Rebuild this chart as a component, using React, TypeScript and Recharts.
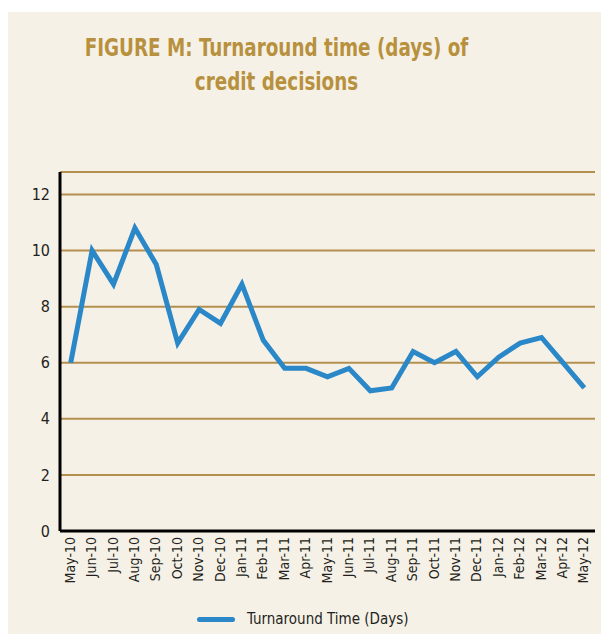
import React from 'react';
import { LineChart, Line, XAxis, YAxis, CartesianGrid } from 'recharts';

const months = [
  'May-10', 'Jun-10', 'Jul-10', 'Aug-10', 'Sep-10', 'Oct-10', 'Nov-10', 'Dec-10',
  'Jan-11', 'Feb-11', 'Mar-11', 'Apr-11', 'May-11', 'Jun-11', 'Jul-11', 'Aug-11',
  'Sep-11', 'Oct-11', 'Nov-11', 'Dec-11', 'Jan-12', 'Feb-12', 'Mar-12', 'Apr-12', 'May-12',
];

const turnaround = [
  6.0, 10.0, 8.8, 10.8, 9.5, 6.7, 7.9, 7.4,
  8.8, 6.8, 5.8, 5.8, 5.5, 5.8, 5.0, 5.1,
  6.4, 6.0, 6.4, 5.5, 6.2, 6.7, 6.9, 6.0, 5.1,
];

const yTicks = [0, 2, 4, 6, 8, 10, 12];

const BG = '#f6f1e7';
const GOLD = '#b8913f';
const GRID = '#b3904f';
const BLUE = '#2a87c8';
const TEXT = '#231f20';
const FONT = '"DejaVu Sans Condensed", "DejaVu Sans", sans-serif';

const chartData = months.map((m, i) => ({ month: m, days: turnaround[i] }));

function MonthTick(props: any) {
  const { x, y, payload } = props;
  return (
    <text
      transform={`translate(${x + 4},${y}) rotate(-90)`}
      textAnchor="end"
      fontSize={14}
      fontFamily={FONT}
      fill={TEXT}
    >
      {payload.value}
    </text>
  );
}

export default function App() {
  return (
    <div
      style={{
        position: 'relative',
        width: 601,
        height: 622,
        marginTop: 4,
        background: BG,
      }}
    >
      <div
        style={{
          position: 'absolute',
          top: 19,
          left: -32,
          width: 601,
          textAlign: 'center',
          color: GOLD,
          fontFamily: FONT,
          fontWeight: 'bold',
          fontSize: 25,
          lineHeight: '34px',
          transform: 'scaleX(0.815)',
          transformOrigin: 'center top',
        }}
      >
        FIGURE M: Turnaround time (days) of
        <br />
        credit decisions
      </div>
      <LineChart
        width={601}
        height={622}
        data={chartData}
        margin={{ top: 160, right: 14, bottom: 23, left: 0 }}
        style={{ position: 'absolute', top: 0, left: 0 }}
      >
        <CartesianGrid vertical={false} stroke={GRID} strokeWidth={2} />
        <XAxis
          dataKey="month"
          interval={0}
          padding={{ left: 10.7, right: 10.7 }}
          axisLine={{ stroke: '#000', strokeWidth: 3 }}
          tickLine={false}
          tick={<MonthTick />}
          tickSize={0}
          tickMargin={6}
          height={80}
        />
        <YAxis
          domain={[0, 12.8]}
          ticks={yTicks}
          width={52}
          axisLine={{ stroke: '#000', strokeWidth: 3 }}
          tickLine={false}
          tickSize={0}
          tickMargin={10}
          tick={{ fontSize: 16, fontFamily: FONT, fill: TEXT }}
        />
        <Line
          type="linear"
          dataKey="days"
          stroke={BLUE}
          strokeWidth={5}
          strokeLinejoin="miter"
          dot={false}
          isAnimationActive={false}
        />
      </LineChart>
      <div
        style={{
          position: 'absolute',
          top: 598,
          left: 189,
          display: 'flex',
          alignItems: 'center',
          fontFamily: FONT,
          fontSize: 15,
          color: TEXT,
        }}
      >
        <span
          style={{
            display: 'inline-block',
            width: 38,
            height: 5,
            borderRadius: 3,
            background: BLUE,
            marginRight: 12,
          }}
        />
        Turnaround Time (Days)
      </div>
    </div>
  );
}
